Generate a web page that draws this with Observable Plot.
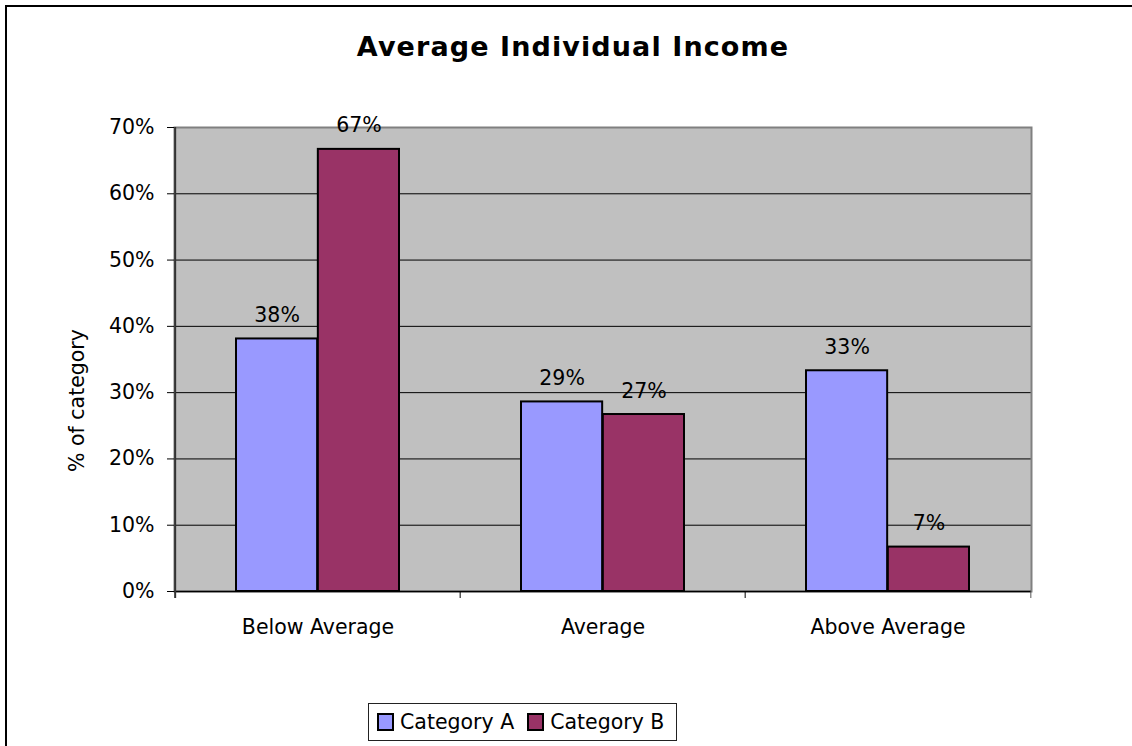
<!DOCTYPE html>
<html>
<head>
<meta charset="utf-8">
<script src="https://cdn.jsdelivr.net/npm/d3@7"></script>
<script src="https://cdn.jsdelivr.net/npm/@observablehq/plot@0.6"></script>
<style>
  html, body { margin: 0; padding: 0; background: #fff; overflow: hidden; }
  #wrap { position: relative; width: 1132px; height: 746px; overflow: hidden; font-family: "DejaVu Sans", sans-serif; }
  #border { position: absolute; left: 5px; top: 5px; width: 1200px; height: 800px; border: 2px solid #000; box-sizing: border-box; }
  #chart { position: absolute; left: 0; top: 0; }
  #legend { position: absolute; left: 368px; top: 703px; width: 309px; height: 38px; border: 1.5px solid #222; box-sizing: border-box; background: #fff; display: flex; align-items: center; padding-left: 8px; font-size: 20.5px; color: #000; white-space: nowrap; }
  .item { display: flex; align-items: center; margin-right: 13px; flex-shrink: 0; white-space: nowrap; }
  .sw { width: 13px; height: 14px; border: 2px solid #000; margin-right: 6px; flex-shrink: 0; }
</style>
</head>
<body>
<div id="wrap">
  <div id="border"></div>
  <div id="chart"></div>
  <div id="legend"></div>
</div>
<script>
const categories = ["Below Average", "Average", "Above Average"];
const seriesNames = ["Category A", "Category B"];
const valuesA = [0.381, 0.286, 0.333];
const valuesB = [0.667, 0.267, 0.067];
const seriesColors = ["#9999FF", "#993366"];
const yTicks = [0, 0.1, 0.2, 0.3, 0.4, 0.5, 0.6, 0.7];
const titleText = "Average Individual Income";
const yLabel = "% of category";

const W = 1132, H = 746, mL = 174, mR = 101, mT = 127, mB = 155;
const bw = (W - mL - mR) / categories.length;
const plotH = H - mT - mB;
const outer = 61, barW = (bw - 2 * outer) / 2;

const dataA = categories.map((c, i) => ({category: c, series: seriesNames[0], value: valuesA[i]}));
const dataB = categories.map((c, i) => ({category: c, series: seriesNames[1], value: valuesB[i]}));
const pct = d3.format(".0%");

const plot = Plot.plot({
  width: W, height: H,
  marginLeft: mL, marginRight: mR, marginTop: mT, marginBottom: mB,
  style: {fontFamily: "DejaVu Sans", fontSize: "20.5px", color: "#000", background: "transparent", overflow: "visible"},
  x: {domain: categories, padding: 0},
  y: {domain: [0, 0.7]},
  marks: [
    Plot.frame({fill: "#C0C0C0", stroke: "none"}),
    Plot.ruleY(yTicks, {stroke: "#000", strokeWidth: 1}),
    Plot.frame({fill: "none", stroke: "#808080", strokeWidth: 2}),
    Plot.barY(dataA, {x: "category", y: "value", fill: seriesColors[0], stroke: "#000", strokeWidth: 2, insetLeft: outer, insetRight: outer + barW}),
    Plot.barY(dataB, {x: "category", y: "value", fill: seriesColors[1], stroke: "#000", strokeWidth: 2, insetLeft: outer + barW, insetRight: outer}),
    Plot.text(dataA, {x: "category", y: "value", text: d => pct(d.value), dx: -barW / 2, dy: -17, lineAnchor: "bottom", fill: "#000"}),
    Plot.text(dataB, {x: "category", y: "value", text: d => pct(d.value), dx: barW / 2, dy: -17, lineAnchor: "bottom", fill: "#000"}),
    Plot.ruleY([0], {stroke: "#000", strokeWidth: 1.5}),
    Plot.ruleX([categories[0]], {dx: -bw / 2, insetBottom: -7, stroke: "#333", strokeWidth: 2}),
    Plot.ruleX(categories.slice(1), {dx: -bw / 2, insetTop: plotH, insetBottom: -7, stroke: "#000", strokeWidth: 1}),
    Plot.ruleX([categories[categories.length - 1]], {dx: bw / 2, insetTop: plotH, insetBottom: -7, stroke: "#555", strokeWidth: 1}),
    Plot.axisY({ticks: yTicks, tickFormat: pct, tickSize: 7, tickPadding: 13, stroke: "#000", strokeWidth: 1, fill: "#000", label: null}),
    Plot.axisX({tickSize: 0, tickPadding: 28, fill: "#000", label: null}),
    Plot.text([yLabel], {frameAnchor: "left", textAnchor: "middle", lineAnchor: "middle", rotate: -90, dx: -97, dy: 41, fill: "#000"}),
    Plot.text([titleText], {frameAnchor: "top", textAnchor: "middle", dx: -30, dy: -80, lineAnchor: "middle", fontSize: 27, fontWeight: "bold", fill: "#000"})
  ]
});
d3.select(plot).selectAll("text").filter(function() { return this.textContent === titleText; }).attr("letter-spacing", "1.1px");
document.getElementById("chart").appendChild(plot);

const legend = document.getElementById("legend");
seriesNames.forEach((name, i) => {
  const item = document.createElement("div");
  item.className = "item";
  const sw = document.createElement("div");
  sw.className = "sw";
  sw.style.background = seriesColors[i];
  const label = document.createElement("span");
  label.textContent = name;
  item.appendChild(sw);
  item.appendChild(label);
  legend.appendChild(item);
});
</script>
</body>
</html>
